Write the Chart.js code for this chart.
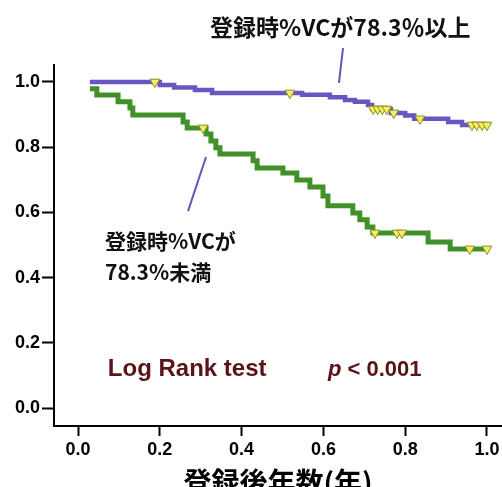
<!DOCTYPE html>
<html>
<head>
<meta charset="utf-8">
<script src="https://cdn.jsdelivr.net/npm/chart.js@4.4.1/dist/chart.umd.min.js"></script>
<style>
  html, body { margin: 0; padding: 0; background: #ffffff; }
  #wrap { width: 502px; height: 487px; }
</style>
</head>
<body>
<div id="wrap"><canvas id="km" width="502" height="487"></canvas></div>
<script>
// Axis ticks
const xTicks = [0, 0.2, 0.4, 0.6, 0.8, 1.0];
const yTicks = [0, 0.2, 0.4, 0.6, 0.8, 1.0];

// %VC >= 78.3% group: event times and survival after each step
const highTimes = [0.029, 0.200, 0.235, 0.286, 0.328, 0.548, 0.616, 0.653, 0.677, 0.709, 0.719, 0.765, 0.800, 0.822, 0.905, 0.939, 1.005];
const highSurv  = [1.000, 0.991, 0.983, 0.975, 0.966, 0.961, 0.953, 0.945, 0.939, 0.929, 0.917, 0.905, 0.897, 0.887, 0.877, 0.868, 0.868];
// censored cases
const highCensorTimes = [0.188, 0.518, 0.722, 0.733, 0.744, 0.755, 0.772, 0.836, 0.963, 0.975, 0.988, 1.000];
const highCensorSurv  = [1.000, 0.966, 0.917, 0.917, 0.917, 0.917, 0.905, 0.887, 0.868, 0.868, 0.868, 0.868];

// %VC < 78.3% group
const lowTimes = [0.029, 0.046, 0.098, 0.127, 0.134, 0.257, 0.267, 0.313, 0.325, 0.337, 0.347, 0.428, 0.438, 0.501, 0.535, 0.567, 0.599, 0.611, 0.672, 0.689, 0.707, 0.721, 0.856, 0.910, 1.005];
const lowSurv  = [0.979, 0.960, 0.939, 0.920, 0.899, 0.877, 0.859, 0.840, 0.819, 0.798, 0.779, 0.758, 0.736, 0.721, 0.699, 0.678, 0.650, 0.620, 0.598, 0.577, 0.555, 0.537, 0.509, 0.488, 0.488];
const lowCensorTimes = [0.306, 0.726, 0.780, 0.792, 0.958, 1.000];
const lowCensorSurv  = [0.859, 0.537, 0.537, 0.537, 0.488, 0.488];

const highLabel = '登録時%VCが78.3％以上';
const lowLabel = ['登録時%VCが', '78.3%未満'];
const xTitle = '登録後年数(年)';

const pts = (xs, ys) => xs.map((x, i) => ({ x: x, y: ys[i] }));

const CJK = '"Noto Sans CJK JP", "Noto Sans", sans-serif';
const LATIN = '"Liberation Sans", Arial, sans-serif';

const censorStyle = {
  type: 'scatter',
  showLine: false,
  pointStyle: 'triangle',
  rotation: 180,
  pointRadius: 5.6,
  pointBackgroundColor: '#f4f05c',
  pointBorderColor: '#8f8c2a',
  pointBorderWidth: 1,
  order: 0
};

// Let the x axis run to the right edge of the canvas (the last label is allowed to overflow)
const fullWidthX = {
  id: 'fullWidthX',
  afterLayout(chart) {
    const s = chart.scales.x;
    const right = chart.width;
    s.right = right;
    s.width = right - s.left;
    chart.chartArea.right = right;
    chart.chartArea.width = right - chart.chartArea.left;
    s.configure();
  }
};

// Labels, pointer lines and the test result, positioned in data units
const annotations = {
  id: 'annotations',
  afterDatasetsDraw(chart) {
    const { ctx, scales: { x, y } } = chart;
    const px = v => x.getPixelForValue(v);
    const py = v => y.getPixelForValue(v);
    ctx.save();

    ctx.strokeStyle = '#5a58b8';
    ctx.lineWidth = 2;
    ctx.beginPath();
    ctx.moveTo(px(0.648), py(1.104));
    ctx.lineTo(px(0.638), py(0.997));
    ctx.moveTo(px(0.313), py(0.770));
    ctx.lineTo(px(0.269), py(0.604));
    ctx.stroke();

    ctx.fillStyle = '#111111';
    ctx.textAlign = 'left';
    ctx.textBaseline = 'middle';
    ctx.font = 'bold 23px ' + CJK;
    ctx.fillText(highLabel, px(0.323), py(1.169));
    ctx.font = 'bold 21px ' + CJK;
    ctx.fillText(lowLabel[0], px(0.066), py(0.512));
    ctx.fillText(lowLabel[1], px(0.066), py(0.417));

    ctx.fillStyle = '#5a1418';
    ctx.font = 'bold 24px ' + LATIN;
    ctx.fillText('Log Rank test', px(0.073), py(0.117));
    ctx.font = 'italic bold 22px ' + LATIN;
    const pX = px(0.611);
    ctx.fillText('p', pX, py(0.117));
    const pw = ctx.measureText('p ').width;
    ctx.font = 'bold 22px ' + LATIN;
    ctx.fillText('< 0.001', pX + pw, py(0.117));
    ctx.restore();
  }
};

new Chart(document.getElementById('km'), {
  type: 'line',
  data: {
    datasets: [
      Object.assign({ data: pts(highCensorTimes, highCensorSurv) }, censorStyle),
      Object.assign({ data: pts(lowCensorTimes, lowCensorSurv) }, censorStyle),
      {
        data: pts(highTimes, highSurv),
        stepped: 'before',
        borderColor: '#6757c0',
        borderWidth: 4.5,
        pointRadius: 0,
        fill: false,
        order: 1
      },
      {
        data: pts(lowTimes, lowSurv),
        stepped: 'before',
        borderColor: '#41912a',
        borderWidth: 5,
        pointRadius: 0,
        fill: false,
        order: 1
      }
    ]
  },
  options: {
    responsive: false,
    animation: false,
    devicePixelRatio: 1,
    layout: { padding: { top: 65, right: 0, left: 0, bottom: 0 } },
    plugins: { legend: { display: false }, tooltip: { enabled: false } },
    scales: {
      x: {
        type: 'linear',
        min: -0.0587,
        max: 1.0367,
        afterBuildTicks: s => { s.ticks = xTicks.map(v => ({ value: v })); },
        afterFit: s => { s.height = 61; },
        border: { display: true, color: '#000', width: 2 },
        grid: { drawOnChartArea: false, drawTicks: true, tickLength: 10, tickColor: '#000', tickWidth: 2 },
        ticks: {
          autoSkip: false, maxRotation: 0, padding: 3,
          color: '#000',
          font: { family: LATIN, size: 18, weight: 'bold' },
          callback: v => Number(v).toFixed(1)
        },
        title: {
          display: true,
          text: xTitle,
          color: '#000',
          font: { family: CJK, size: 28, weight: 'bold', lineHeight: 1.2 },
          padding: { top: 0, bottom: -12 }
        }
      },
      y: {
        type: 'linear',
        min: -0.0552,
        max: 1.052,
        afterBuildTicks: s => { s.ticks = yTicks.map(v => ({ value: v })); },
        afterFit: s => { s.width = 54; },
        border: { display: true, color: '#000', width: 2 },
        grid: { drawOnChartArea: false, drawTicks: true, tickLength: 12, tickColor: '#000', tickWidth: 2 },
        ticks: {
          autoSkip: false, padding: 2,
          color: '#000',
          font: { family: LATIN, size: 18, weight: 'bold' },
          callback: v => Number(v).toFixed(1)
        }
      }
    }
  },
  plugins: [fullWidthX, annotations]
});
</script>
</body>
</html>
